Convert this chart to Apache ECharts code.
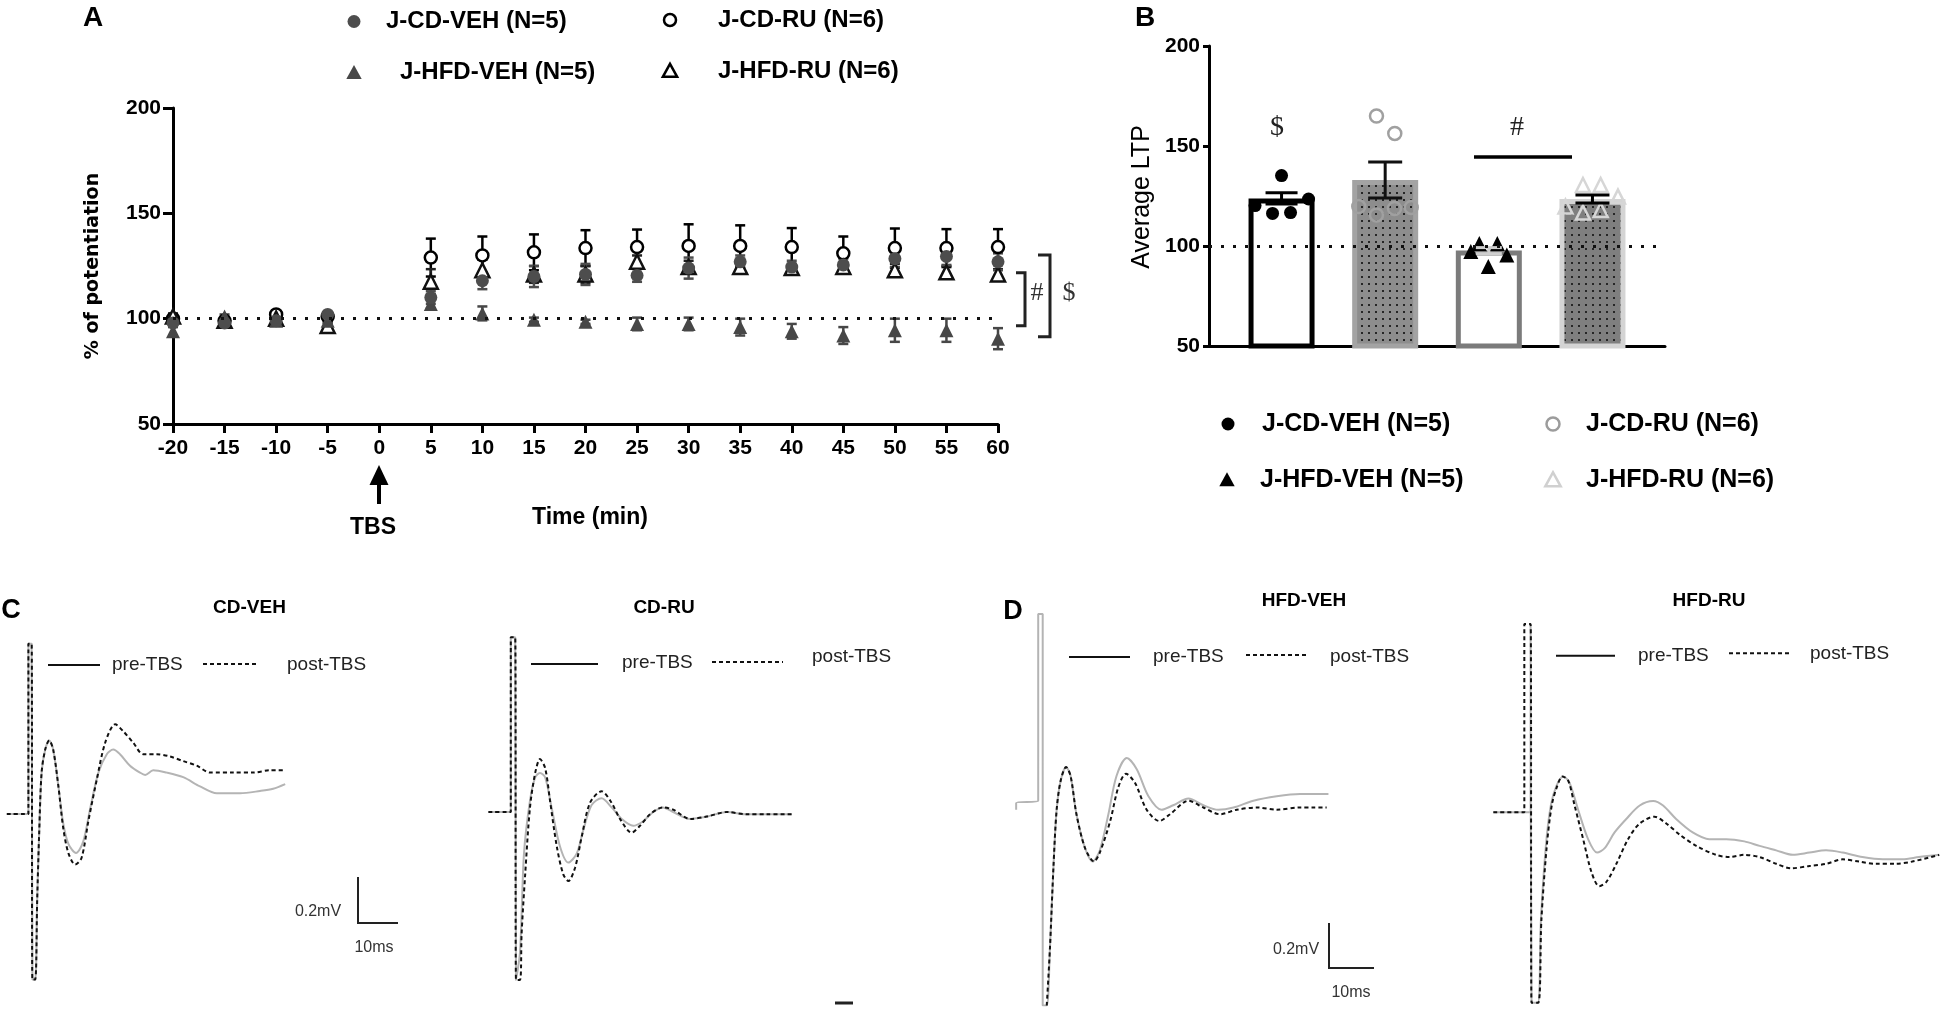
<!DOCTYPE html>
<html>
<head>
<meta charset="utf-8">
<title>LTP figure</title>
<script src="https://cdn.jsdelivr.net/npm/echarts@6.0.0/dist/echarts.min.js"></script>
<style>
  html, body { margin: 0; padding: 0; background: #fff; }
  #chart { width: 1950px; height: 1014px; }
</style>
</head>
<body>
<div id="chart"></div>
<script>
// ---- panel A: % of potentiation over time ----
const timePoints = [-20, -15, -10, -5, 5, 10, 15, 20, 25, 30, 35, 40, 45, 50, 55, 60];
const cdVeh     = [98, 98, 99, 102, 110, 118, 120, 121, 120.5, 124, 127, 124.5, 125.5, 128.5, 129.5, 127];
const cdVehSem  = [1, 1, 1, 1, 3, 4, 5, 5, 3, 5, 3, 3, 3, 4, 4, 4];
const cdRu      = [100, 99, 102, 101, 129, 130, 131.5, 133.5, 134, 134.5, 134.5, 134, 131, 133.5, 133.5, 134];
const cdRuSem   = [1.5, 1, 1.5, 1.5, 9, 9, 8.5, 8.5, 8.3, 10.3, 9.8, 9, 8, 9.3, 9, 8.5];
const hfdVeh    = [94, 101, 99, 99, 107, 102.5, 99.5, 98.5, 97.5, 97.5, 96, 94, 92, 94.5, 94.5, 90.5];
const hfdVehSem = [2, 1, 1, 1, 2, 3.3, 1, 1, 3, 3, 4, 3.5, 4, 5.5, 5.5, 5];
const hfdRu     = [101, 99, 100, 96.5, 117.5, 123, 121, 121, 127, 124.5, 124.5, 124, 124.5, 123, 122, 121];
const hfdRuSem  = [1.5, 1, 1, 1.5, 6, 5, 4, 4, 3, 3, 2, 2, 2, 3, 3, 2.5];
const timeTicks = { min: -20, max: 60, step: 5 };
const potTicks  = { min: 50, max: 200, step: 50 };

// ---- panel B: average LTP ----
const ltpMean   = [123.8, 133, 97.7, 123.5];
const ltpSem    = [2.8, 9, 1.5, 2];
const ltpCdVeh  = [120.2, 116.3, 135.2, 116.7, 123.5];
const ltpCdRu   = [165, 156.3, 119.7, 115.5, 118.8, 119.3];
const ltpHfdVeh = [97.2, 101.3, 89.7, 101.3, 95.5];
const ltpHfdRu  = [119.7, 130.5, 116.7, 130.5, 118, 124.7];

// ---- panels C / D: fEPSP traces, [ms, mV] ----
const cdVehPre = [[-5.8,0],[-0.4,0],[-0.4,0.74],[0.4,0.74],[0.6,-0.72],[1.3,-0.72],[1.8,-0.37],[2.3,-0.08],[2.9,0.18],[3.8,0.28],[4.8,0.32],[5.8,0.28],[7.1,0.12],[8.3,-0.04],[9.6,-0.13],[11.5,-0.17],[13.3,-0.12],[15,0.02],[17.1,0.18],[19.2,0.26],[20.8,0.28],[22.5,0.26],[25,0.21],[27.5,0.18],[28.8,0.17],[30.8,0.19],[34.2,0.18],[38.3,0.16],[42.5,0.12],[46.7,0.09],[52.5,0.09],[57.5,0.1],[60.8,0.11],[63.8,0.13]];
const cdVehPost = [[-5.8,0],[-0.4,0],[-0.4,0.74],[0.4,0.74],[0.6,-0.72],[1.3,-0.72],[1.8,-0.37],[2.3,-0.08],[2.9,0.18],[3.8,0.28],[4.8,0.32],[5.8,0.28],[7.1,0.12],[8.3,-0.06],[9.6,-0.17],[11.3,-0.22],[12.9,-0.19],[14.6,-0.03],[16.7,0.15],[18.8,0.31],[21.3,0.39],[23.3,0.36],[25.8,0.31],[28.3,0.26],[31.7,0.26],[35,0.25],[38.3,0.23],[41.7,0.21],[45,0.18],[50.8,0.18],[55.8,0.18],[60,0.19],[63.8,0.19]];
const cdRuPre = [[-6.4,0],[-0.8,0],[-0.8,0.76],[0.3,0.76],[0.5,-0.73],[1.5,-0.61],[2.5,-0.18],[4,0.05],[5.3,0.15],[6.5,0.17],[7.8,0.15],[9.4,0.02],[11.5,-0.15],[13.6,-0.22],[15.7,-0.18],[17.3,-0.08],[19.4,0.03],[21.9,0.06],[24.4,0.02],[26.9,-0.03],[29.8,-0.06],[32.3,-0.04],[34.8,0],[37.2,0.02],[39.8,0],[44,-0.03],[48.2,-0.02],[53.2,0],[58.2,-0.01],[63.2,-0.01],[69.4,-0.01]];
const cdRuPost = [[-6.4,0],[-0.8,0],[-0.8,0.76],[0.3,0.76],[0.5,-0.73],[1.5,-0.73],[1.9,-0.53],[2.8,-0.27],[4,0.02],[5.3,0.17],[6.5,0.23],[7.8,0.19],[9,0.05],[10.7,-0.15],[12.3,-0.27],[13.6,-0.3],[15.3,-0.24],[16.9,-0.11],[19,0.04],[21.9,0.09],[24.4,0.04],[26.5,-0.03],[29.4,-0.09],[31.5,-0.06],[34,-0.01],[37.2,0.02],[39.8,0.01],[44,-0.03],[48.2,-0.02],[53.2,0],[58.2,-0.01],[63.2,-0.01],[69.4,-0.01]];
const hfdVehPre = [[-5.3,-0.03],[-5.3,0],[-0.4,0.01],[-0.4,0.84],[0.6,0.84],[0.6,-0.9],[1.5,-0.9],[2.2,-0.65],[3,-0.28],[3.7,-0.03],[4.6,0.1],[5.8,0.16],[6.8,0.12],[8.1,-0.05],[10,-0.2],[11.7,-0.26],[13.3,-0.21],[15.2,-0.05],[17,0.12],[19.3,0.2],[21.5,0.15],[24.1,0.03],[27,-0.03],[29.6,-0.01],[33,0.02],[36.3,-0.01],[39.6,-0.03],[43,-0.02],[47.4,0.01],[52.6,0.03],[57.8,0.04],[64.1,0.04]];
const hfdVehPost = [[1.5,-0.9],[2.2,-0.65],[3,-0.28],[3.7,-0.03],[4.6,0.1],[5.8,0.16],[6.8,0.12],[8.1,-0.05],[10,-0.2],[12,-0.26],[13.3,-0.22],[15.6,-0.08],[17.4,0.07],[19.1,0.13],[21.1,0.09],[23.7,-0.03],[26.5,-0.08],[28.9,-0.05],[33,0.01],[36.3,-0.02],[40,-0.05],[43.7,-0.03],[48.2,-0.02],[52.6,-0.03],[57.8,-0.02],[60.7,-0.02],[63.7,-0.02]];
const hfdRuPre = [[-7.7,0],[0.6,0],[0.6,0.84],[0.8,-0.85],[2.2,-0.85],[2.9,-0.48],[4,-0.15],[5.1,0.03],[6.4,0.12],[7.9,0.16],[9.3,0.13],[11.2,0.01],[13.4,-0.12],[15.4,-0.18],[17.1,-0.16],[19.3,-0.09],[21.9,-0.03],[24.9,0.03],[27.9,0.05],[30.1,0.03],[33,-0.03],[36.7,-0.09],[40.4,-0.12],[44.2,-0.12],[48.2,-0.13],[51.6,-0.15],[55.3,-0.17],[59,-0.19],[62.7,-0.18],[66.4,-0.17],[70.1,-0.18],[74.5,-0.2],[79,-0.21],[83.4,-0.21],[87.1,-0.2],[91.6,-0.19]];
const hfdRuPost = [[-7.7,0],[-0.8,0],[-0.8,0.84],[0.6,0.84],[0.8,-0.85],[2.3,-0.85],[3,-0.48],[4.2,-0.15],[5.3,0.03],[6.4,0.11],[7.7,0.16],[9,0.14],[10.4,0.03],[12.3,-0.12],[14.2,-0.27],[15.9,-0.33],[17.5,-0.31],[19.7,-0.23],[22.3,-0.12],[24.9,-0.05],[28.2,-0.02],[30.8,-0.05],[33.8,-0.1],[37.5,-0.15],[41.9,-0.19],[44.9,-0.2],[48.2,-0.19],[51.6,-0.2],[55.3,-0.23],[58.6,-0.25],[62.7,-0.24],[66.4,-0.23],[70.1,-0.21],[73.8,-0.22],[77.5,-0.23],[81.9,-0.23],[85.6,-0.22],[91.6,-0.19]];

const FONT = '"Liberation Sans", Arial, sans-serif';
const SERIF = '"Liberation Serif", "Times New Roman", serif';

const chart = echarts.init(document.getElementById('chart'));

function errorBars(capHalf, color, width) {
  return function (params, api) {
    const x = api.value(0);
    const top = api.coord([x, api.value(2)]);
    const bot = api.coord([x, api.value(1)]);
    const style = { stroke: color, lineWidth: width };
    return {
      type: 'group',
      children: [
        { type: 'line', shape: { x1: top[0], y1: top[1], x2: bot[0], y2: bot[1] }, style },
        { type: 'line', shape: { x1: top[0] - capHalf, y1: top[1], x2: top[0] + capHalf, y2: top[1] }, style },
        { type: 'line', shape: { x1: bot[0] - capHalf, y1: bot[1], x2: bot[0] + capHalf, y2: bot[1] }, style }
      ]
    };
  };
}

function dotPattern(bg) {
  const c = document.createElement('canvas');
  c.width = 7; c.height = 7;
  const ctx = c.getContext('2d');
  ctx.fillStyle = bg;
  ctx.fillRect(0, 0, 7, 7);
  ctx.fillStyle = '#262626';
  ctx.fillRect(3, 3, 2, 2);
  return { image: c, repeat: 'repeat' };
}

const boldAxis = (min, max, step, labels, opts) => Object.assign({
  type: 'value', min, max, interval: step,
  axisLine: { show: true, onZero: false, lineStyle: { color: '#000', width: 3 } },
  axisTick: { show: true, length: 9, lineStyle: { color: '#000', width: 3 } },
  splitLine: { show: false },
  axisLabel: labels
}, opts);

const hidden = (min, max, gridIndex) => ({ type: 'value', min, max, show: false, gridIndex, splitLine: { show: false } });

// panel A groups, bottom to top (filled markers sit over the open ones)
const groupsA = [
  { name: 'J-CD-RU (N=6)', v: cdRu, e: cdRuSem, symbol: 'circle', size: 12, fill: '#fff', stroke: '#000', bar: '#000' },
  { name: 'J-HFD-RU (N=6)', v: hfdRu, e: hfdRuSem, symbol: 'triangle', size: 14, fill: '#fff', stroke: '#111', bar: '#222' },
  { name: 'J-HFD-VEH (N=5)', v: hfdVeh, e: hfdVehSem, symbol: 'triangle', size: 14, fill: '#474747', stroke: '#474747', bar: '#474747' },
  { name: 'J-CD-VEH (N=5)', v: cdVeh, e: cdVehSem, symbol: 'circle', size: 13, fill: '#4d4d4d', stroke: '#4d4d4d', bar: '#4d4d4d' }
];

const series = [];
series.push({
  type: 'line', xAxisIndex: 0, yAxisIndex: 0, data: [], z: 1, silent: true,
  markLine: { silent: true, symbol: 'none', label: { show: false },
    lineStyle: { color: '#111', width: 3, type: [3, 9] }, data: [{ yAxis: 100 }] }
});
groupsA.forEach(g => {
  series.push({
    type: 'custom', name: g.name, xAxisIndex: 0, yAxisIndex: 0, z: 2,
    renderItem: errorBars(5, g.bar, 2.5),
    encode: { x: 0, y: [1, 2] },
    data: timePoints.map((t, i) => [t, g.v[i] - g.e[i], g.v[i] + g.e[i]])
  });
});
groupsA.forEach(g => {
  series.push({
    type: 'scatter', name: g.name, xAxisIndex: 0, yAxisIndex: 0, z: 3,
    symbol: g.symbol, symbolSize: g.size,
    itemStyle: { color: g.fill, borderColor: g.stroke, borderWidth: g.fill === '#fff' ? 2.5 : 0, opacity: 1 },
    data: timePoints.map((t, i) => [t, g.v[i]])
  });
});

// panel B
const swarm = [[-26.5, -9, 0, 9, 27], [-8.7, 9.6, -26.4, -8.7, 9.3, 26], [-18, -9.5, -0.5, 8.5, 18], [-27, -9.5, -9.5, 8.2, 8.2, 25.5]];
const barLook = [
  { fill: '#fff', border: '#000' },
  { fill: dotPattern('#8d8d8d'), border: '#a3a3a3' },
  { fill: '#fff', border: '#7b7b7b' },
  { fill: dotPattern('#7f7f7f'), border: '#d4d4d4' }
];
const pointLook = [
  { symbol: 'circle', size: 13, color: '#000', border: '#000', bw: 0 },
  { symbol: 'circle', size: 13, color: 'rgba(255,255,255,0)', border: '#a0a0a0', bw: 2.5 },
  { symbol: 'triangle', size: 15, color: '#000', border: '#000', bw: 0 },
  { symbol: 'triangle', size: 14, color: 'rgba(255,255,255,0)', border: '#d6d6d6', bw: 2.5 }
];
const errLook = [{ c: '#000', w: 16 }, { c: '#111', w: 17 }, { c: '#cfcfcf', w: 13 }, { c: '#000', w: 17 }];
const ltpPoints = [ltpCdVeh, ltpCdRu, ltpHfdVeh, ltpHfdRu];

series.push({
  type: 'line', xAxisIndex: 1, yAxisIndex: 1, data: [], z: 1, silent: true,
  markLine: { silent: true, symbol: 'none', label: { show: false },
    lineStyle: { color: '#111', width: 3, type: [3, 9] }, data: [{ yAxis: 100 }] }
});
series.push({
  type: 'bar', xAxisIndex: 1, yAxisIndex: 1, z: 2, barWidth: 66,
  data: ltpMean.map((m, i) => ({ value: [i, m], itemStyle: { color: barLook[i].fill, borderColor: barLook[i].border, borderWidth: 5 } }))
});
ltpPoints.forEach((pts, g) => {
  series.push({
    type: 'scatter', xAxisIndex: 1, yAxisIndex: 1, z: 3,
    symbol: pointLook[g].symbol, symbolSize: pointLook[g].size,
    itemStyle: { color: pointLook[g].color, borderColor: pointLook[g].border, borderWidth: pointLook[g].bw, opacity: 1 },
    data: pts.map((v, i) => ({ value: [g, v], symbolOffset: [swarm[g][i], 0] }))
  });
});
ltpMean.forEach((m, i) => {
  series.push({
    type: 'custom', xAxisIndex: 1, yAxisIndex: 1, z: 4,
    renderItem: errorBars(errLook[i].w, errLook[i].c, 3),
    encode: { x: 0, y: [1, 2] },
    data: [[i, m - ltpSem[i], m + ltpSem[i]]]
  });
});

// panels C / D traces
const traces = [
  { pre: cdVehPre, post: cdVehPost },
  { pre: cdRuPre, post: cdRuPost },
  { pre: hfdVehPre, post: hfdVehPost },
  { pre: hfdRuPre, post: hfdRuPost }
];
traces.forEach((tr, k) => {
  const ax = k + 2;
  series.push({
    type: 'line', xAxisIndex: ax, yAxisIndex: ax, data: tr.pre, smooth: 0.3, showSymbol: false, silent: true,
    lineStyle: { color: '#b4b4b4', width: 2 }, z: 2
  });
  series.push({
    type: 'line', xAxisIndex: ax, yAxisIndex: ax, data: tr.post, smooth: 0.3, showSymbol: false, silent: true,
    lineStyle: { color: '#111', width: 2, type: [4, 3] }, z: 3
  });
});

// annotations
const T = (x, y, text, size, o = {}) => ({
  type: 'text', x, y, rotation: o.rotation || 0,
  style: { text, fontSize: size, fontFamily: o.family || FONT, fontWeight: o.weight || 'normal',
    fill: o.fill || '#000', align: o.align || 'center', verticalAlign: 'middle' }
});
const L = (pts, w, color, dash) => ({
  type: 'polyline', shape: { points: pts },
  style: { stroke: color || '#000', lineWidth: w, fill: null, lineDash: dash || null }
});
const tri = (cx, cy, s) => [[cx, cy - s * 0.55], [cx + s * 0.55, cy + s * 0.45], [cx - s * 0.55, cy + s * 0.45]];

const graphic = [
  T(93, 18, 'A', 28, { weight: 'bold' }),
  T(1145, 18, 'B', 28, { weight: 'bold' }),
  T(11, 611, 'C', 27, { weight: 'bold' }),
  T(1013, 612, 'D', 27, { weight: 'bold' }),

  // legend A
  { type: 'circle', shape: { cx: 354, cy: 21.5, r: 6.5 }, style: { fill: '#4d4d4d' } },
  T(386, 21.5, 'J-CD-VEH (N=5)', 24, { weight: 'bold', align: 'left' }),
  { type: 'circle', shape: { cx: 670, cy: 20, r: 6 }, style: { fill: '#fff', stroke: '#000', lineWidth: 2.5 } },
  T(718, 20, 'J-CD-RU (N=6)', 24, { weight: 'bold', align: 'left' }),
  { type: 'polygon', shape: { points: tri(354, 72.7, 14) }, style: { fill: '#474747' } },
  T(400, 72.7, 'J-HFD-VEH (N=5)', 24, { weight: 'bold', align: 'left' }),
  { type: 'polygon', shape: { points: tri(670, 71, 13) }, style: { fill: '#fff', stroke: '#000', lineWidth: 2.5 } },
  T(718, 71, 'J-HFD-RU (N=6)', 24, { weight: 'bold', align: 'left' }),

  T(93, 266, '% of potentiation', 19, { weight: 'bold', family: '"DejaVu Sans", Verdana, sans-serif', rotation: Math.PI / 2 }),
  T(590, 517.5, 'Time (min)', 23, { weight: 'bold' }),
  T(373, 528, 'TBS', 23, { weight: 'bold' }),
  L([[379, 483], [379, 504]], 4),
  { type: 'polygon', shape: { points: [[379, 465], [369.5, 485], [388.5, 485]] }, style: { fill: '#000' } },

  L([[1016, 272.7], [1025, 272.7], [1025, 325.7], [1016, 325.7]], 3, '#222'),
  L([[1038, 255], [1050, 255], [1050, 336.7], [1038, 336.7]], 3, '#222'),
  T(1037, 293, '#', 26, { family: SERIF, fill: '#333' }),
  T(1069, 293, '$', 26, { family: SERIF, fill: '#333' }),

  // panel B annotations
  T(1277, 128, '$', 28, { family: SERIF, fill: '#222' }),
  T(1517, 128, '#', 28, { family: SERIF, fill: '#222' }),
  L([[1474, 157], [1572, 157]], 3.5),
  T(1142, 197, 'Average LTP', 25, { rotation: Math.PI / 2 }),

  // legend B
  { type: 'circle', shape: { cx: 1228, cy: 424, r: 6.5 }, style: { fill: '#000' } },
  T(1262, 424, 'J-CD-VEH (N=5)', 25, { weight: 'bold', align: 'left' }),
  { type: 'circle', shape: { cx: 1553, cy: 424, r: 6.5 }, style: { fill: '#fff', stroke: '#9c9c9c', lineWidth: 2.5 } },
  T(1586, 424, 'J-CD-RU (N=6)', 25, { weight: 'bold', align: 'left' }),
  { type: 'polygon', shape: { points: tri(1227, 480, 14) }, style: { fill: '#000' } },
  T(1260, 480, 'J-HFD-VEH (N=5)', 25, { weight: 'bold', align: 'left' }),
  { type: 'polygon', shape: { points: tri(1553, 480, 14) }, style: { fill: '#fff', stroke: '#d0d0d0', lineWidth: 2.5 } },
  T(1586, 480, 'J-HFD-RU (N=6)', 25, { weight: 'bold', align: 'left' }),

  // trace titles
  T(249.5, 608, 'CD-VEH', 19, { weight: 'bold' }),
  T(664, 608, 'CD-RU', 19, { weight: 'bold' }),
  T(1304, 601, 'HFD-VEH', 19, { weight: 'bold' }),
  T(1709, 601, 'HFD-RU', 19, { weight: 'bold' }),

  // trace legends
  L([[48, 665], [100, 665]], 2, '#111'),
  T(112, 665, 'pre-TBS', 19, { align: 'left', fill: '#222' }),
  L([[203, 664], [257, 664]], 2, '#111', [4, 3]),
  T(287, 665, 'post-TBS', 19, { align: 'left', fill: '#222' }),

  L([[531, 664], [598, 664]], 2, '#111'),
  T(622, 663, 'pre-TBS', 19, { align: 'left', fill: '#222' }),
  L([[712, 662], [783, 662]], 2, '#111', [4, 3]),
  T(812, 657, 'post-TBS', 19, { align: 'left', fill: '#222' }),

  L([[1069, 657], [1130, 657]], 2, '#111'),
  T(1153, 657, 'pre-TBS', 19, { align: 'left', fill: '#222' }),
  L([[1246, 655], [1306, 655]], 2, '#111', [4, 3]),
  T(1330, 656.5, 'post-TBS', 19, { align: 'left', fill: '#222' }),

  L([[1556, 655.7], [1615, 655.7]], 2, '#111'),
  T(1638, 655.7, 'pre-TBS', 19, { align: 'left', fill: '#222' }),
  L([[1729, 653.3], [1790, 653.3]], 2, '#111', [4, 3]),
  T(1810, 654, 'post-TBS', 19, { align: 'left', fill: '#222' }),

  // scale bars
  L([[358, 877], [358, 923], [398, 923]], 2, '#222'),
  T(318, 912, '0.2mV', 16, { fill: '#333' }),
  T(374, 948, '10ms', 16, { fill: '#333' }),
  L([[1329, 923], [1329, 968], [1374, 968]], 2, '#222'),
  T(1296, 950, '0.2mV', 16, { fill: '#333' }),
  T(1351, 993, '10ms', 16, { fill: '#333' }),
  L([[835, 1003], [853, 1003]], 3, '#222')
];

const tickFont = { color: '#000', fontWeight: 'bold', fontSize: 21, fontFamily: FONT };

chart.setOption({
  animation: false,
  backgroundColor: '#fff',
  textStyle: { fontFamily: FONT },
  grid: [
    { left: 173, top: 108, width: 825, height: 316 },
    { left: 1209, top: 46, width: 456, height: 300 },
    { left: 0, top: 630, width: 360, height: 368 },
    { left: 484, top: 628, width: 360, height: 368 },
    { left: 1004, top: 600.5, width: 405, height: 405 },
    { left: 1492, top: 610.5, width: 459, height: 405 }
  ],
  xAxis: [
    boldAxis(timeTicks.min, timeTicks.max, timeTicks.step, Object.assign({ margin: 14 }, tickFont), { gridIndex: 0 }),
    boldAxis(-0.7, 3.7, 1, { show: false }, { gridIndex: 1, axisTick: { show: false } }),
    hidden(-7.5, 82.5, 2),
    hidden(-7.5, 82.5, 3),
    hidden(-8, 82, 4),
    hidden(-8, 94, 5)
  ],
  yAxis: [
    boldAxis(potTicks.min, potTicks.max, potTicks.step, Object.assign({ margin: 12 }, tickFont),
      { gridIndex: 0, axisTick: { show: true, length: 10, lineStyle: { color: '#000', width: 3 } } }),
    boldAxis(potTicks.min, potTicks.max, potTicks.step, Object.assign({ margin: 9 }, tickFont),
      { gridIndex: 1, axisTick: { show: true, length: 6, lineStyle: { color: '#000', width: 3 } } }),
    hidden(-0.8, 0.8, 2),
    hidden(-0.8, 0.8, 3),
    hidden(-0.9, 0.9, 4),
    hidden(-0.9, 0.9, 5)
  ],
  series,
  graphic
});
</script>
</body>
</html>
